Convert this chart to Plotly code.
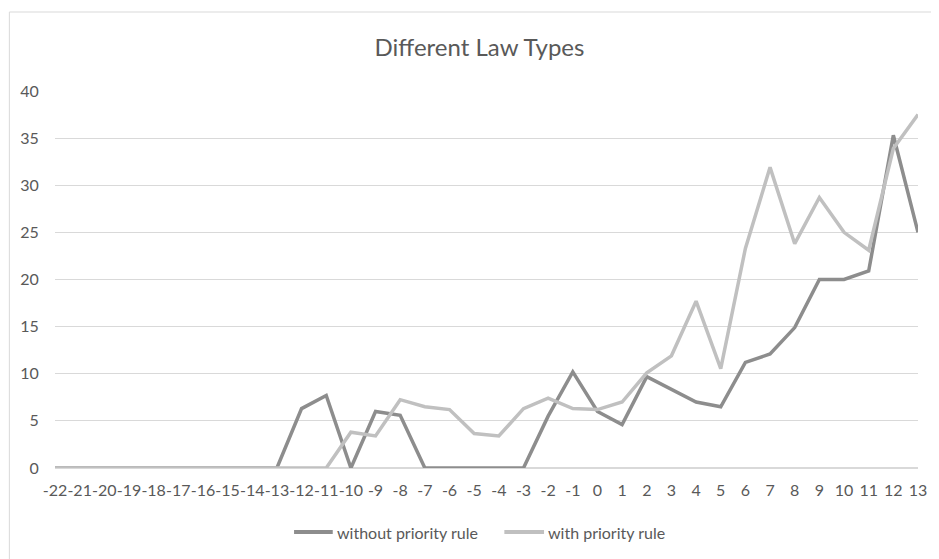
import plotly.graph_objects as go

# Data
categories = [str(v) for v in range(-22, 14)]
without_priority = [0, 0, 0, 0, 0, 0, 0, 0, 0, 0,
                    6.3, 7.7, 0, 6.0, 5.6, 0, 0, 0, 0, 0, 5.5, 10.2, 6.0, 4.6,
                    9.7, 8.4, 7.0, 6.5, 11.2, 12.1, 14.9, 20.0, 20.0, 20.9, 35.3, 25.0]
with_priority = [0, 0, 0, 0, 0, 0, 0, 0, 0, 0, 0, 0,
                 3.8, 3.4, 7.25, 6.5, 6.2, 3.65, 3.4, 6.3, 7.4, 6.3, 6.2, 7.0,
                 10.1, 11.9, 17.7, 10.55, 23.3, 31.9, 23.8, 28.7, 25.0, 23.1, 33.9, 37.5]
y_ticks = [0, 5, 10, 15, 20, 25, 30, 35, 40]
series_names = ["without priority rule", "with priority rule"]
series_colors = ["#8d8d8d", "#c0c0c0"]

OFF = 8  # default page margin of the html body
W, H = 939 - OFF, 559 - OFF
ML, MR, MT, MB = 55 - OFF, 14, 91 - OFF, 91
pw = W - ML - MR
ph = H - MT - MB
FONT = "Lato, 'Open Sans', sans-serif"
TXT = "#595959"


def px_x(x):
    return (x - OFF - ML) / pw


def px_y(y):
    return (MT + ph - (y - OFF)) / ph


fig = go.Figure()
for name, vals, col in zip(series_names, [without_priority, with_priority], series_colors):
    fig.add_trace(go.Scatter(x=categories, y=vals, mode="lines", name=name,
                             line=dict(color=col, width=3.5), showlegend=False))

# outer chart border (cropped on right and bottom)
fig.add_shape(type="rect", xref="paper", yref="paper",
              x0=px_x(9), x1=px_x(960), y0=px_y(580), y1=px_y(12),
              line=dict(color="#d9d9d9", width=1), fillcolor="rgba(0,0,0,0)",
              layer="below")

# legend drawn manually: sample line + label
legend_items = [(296, 335, 337), (508, 548, 550)]
for (lx0, lx1, tx), name, col in zip(legend_items, series_names, series_colors):
    fig.add_shape(type="line", xref="paper", yref="paper",
                  x0=px_x(lx0), x1=px_x(lx1), y0=px_y(532), y1=px_y(532),
                  line=dict(color=col, width=4))
    fig.add_annotation(text=name, xref="paper", yref="paper",
                       x=px_x(tx), y=px_y(532), xanchor="left", yanchor="middle",
                       showarrow=False, font=dict(size=16, color=TXT, family=FONT))

fig.update_layout(
    width=W, height=H,
    margin=dict(l=ML, r=MR, t=MT, b=MB),
    paper_bgcolor="white", plot_bgcolor="white",
    font=dict(family=FONT, color=TXT, size=16),
    title=dict(text="Different Law Types", x=(479.5 - OFF) / W, xref="container",
               xanchor="center", y=1 - (48 - OFF) / H, yref="container", yanchor="middle",
               font=dict(size=24, color=TXT, family=FONT)),
    showlegend=False,
    xaxis=dict(type="category", showgrid=False, zeroline=False,
               showline=False, ticks="outside", ticklen=8,
               tickcolor="rgba(0,0,0,0)", tickfont=dict(size=16, color=TXT),
               tickangle=0, fixedrange=True),
    yaxis=dict(range=[0, 40], tickvals=y_ticks, showgrid=True,
               gridcolor="#d9d9d9", gridwidth=1, zeroline=True,
               zerolinecolor="#d9d9d9", zerolinewidth=1.5, showline=False,
               ticks="outside", ticklen=12, tickcolor="rgba(0,0,0,0)",
               tickfont=dict(size=16, color=TXT)),
)

fig.write_html("out.html")
